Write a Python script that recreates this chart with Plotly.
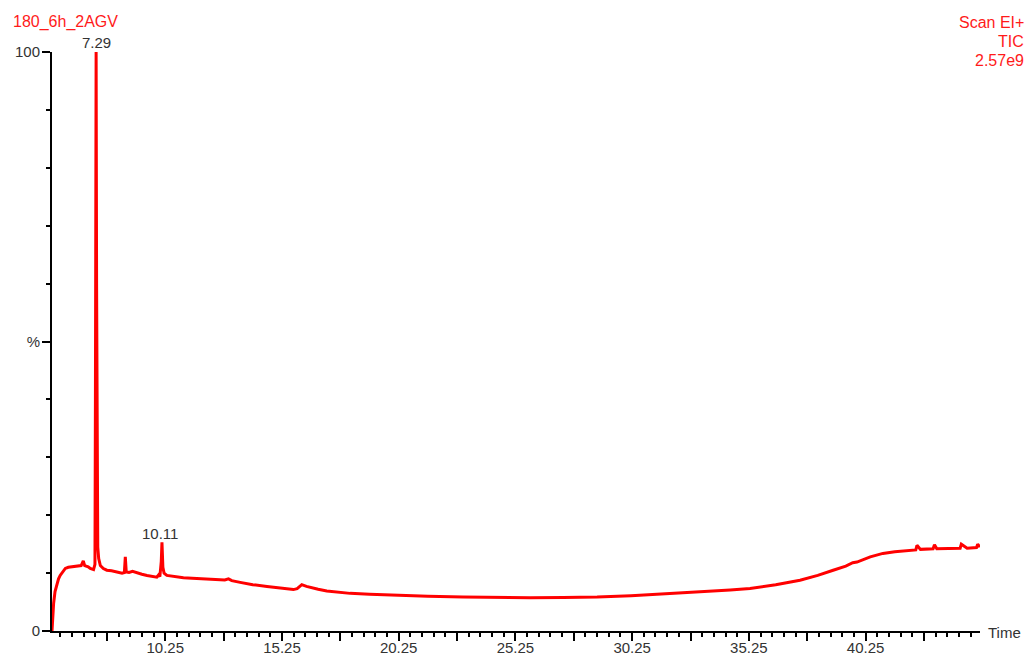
import plotly.graph_objects as go

# ---- data ----
time_min = [
    5.40, 5.44, 5.47, 5.53, 5.61, 5.68, 5.75, 5.86, 5.97, 6.10, 6.31, 6.50, 6.65, 6.74, 6.80,
    6.95, 7.04, 7.18, 7.24, 7.26, 7.29, 7.31, 7.33, 7.36, 7.40, 7.47, 7.60, 7.75, 7.95, 8.18,
    8.40, 8.50, 8.54, 8.58, 8.70, 8.85, 9.04, 9.25, 9.47, 9.70, 9.89, 9.97, 10.02, 10.08, 10.11,
    10.15, 10.20, 10.32, 10.60, 11.03, 11.40, 11.75, 12.10, 12.46, 12.80, 12.96, 13.10, 13.46, 14.00,
    14.61, 15.20, 15.74, 15.90, 16.10, 16.30, 16.46, 16.80, 17.17, 17.70, 18.17, 19.00, 20.19, 21.50,
    23.01, 24.50, 25.88, 27.30, 28.75, 30.20, 31.58, 33.16, 34.45, 35.30, 36.40, 37.44, 38.20, 38.86,
    39.40, 39.70, 39.88, 40.45, 40.99, 41.50, 42.02, 42.40, 42.45, 42.60, 43.14, 43.20, 43.30, 44.00,
    44.30, 44.35, 44.60, 45.00, 45.05, 45.15,
]
intensity_pct = [
    0.0, 3.0, 4.8, 6.8, 8.2, 9.0, 9.6, 10.3, 10.8, 11.0, 11.1, 11.2, 11.3, 12.1, 11.3,
    11.1, 10.8, 10.6, 11.5, 40.0, 100.0, 60.0, 20.0, 14.5, 12.5, 11.3, 10.8, 10.5, 10.4, 10.2,
    10.0, 10.1, 12.8, 10.2, 10.1, 10.3, 10.0, 9.8, 9.6, 9.4, 9.3, 9.7, 9.4, 12.0, 15.3,
    11.0, 10.0, 9.6, 9.4, 9.2, 9.1, 9.05, 9.0, 8.9, 8.8, 9.0, 8.7, 8.4, 8.0,
    7.7, 7.4, 7.15, 7.3, 8.0, 7.7, 7.5, 7.2, 6.9, 6.7, 6.5, 6.35, 6.17, 6.0,
    5.88, 5.8, 5.76, 5.8, 5.88, 6.1, 6.4, 6.7, 7.1, 7.35, 8.0, 8.76, 9.6, 10.5,
    11.2, 11.8, 11.9, 12.8, 13.4, 13.7, 13.9, 14.0, 14.8, 14.1, 14.2, 14.9, 14.2, 14.3,
    14.3, 15.0, 14.3, 14.4, 15.0, 14.5,
]

peak_times = [7.29, 10.11]
peak_labels = ["7.29", "10.11"]
peak_heights = [100.0, 15.3]

x_label_times = [10.25, 15.25, 20.25, 25.25, 30.25, 35.25, 40.25]
x_tick_labels = ["10.25", "15.25", "20.25", "25.25", "30.25", "35.25", "40.25"]
y_tick_vals = [0, 50, 100]
y_tick_labels = ["0", "%", "100"]

sample_name = "180_6h_2AGV"
scan_lines = ["Scan EI+", "TIC", "2.57e9"]

# ---- layout constants ----
W, H = 1027, 658
ML, MR, MT, MB = 52, 47, 52, 27
PW, PH = W - ML - MR, H - MT - MB
X_RANGE = [5.40, 45.15]
RED = "#ff1a1a"
FONT = "Liberation Sans, Arial, sans-serif"


def px_to_paper_x(px):
    return (px - ML) / PW


def px_to_paper_y(py):
    return (H - MB - py) / PH


# major x ticks every 2.5 min, labelled every 5 min
major_vals = []
major_text = []
v = 7.75
while v < X_RANGE[1]:
    major_vals.append(round(v, 2))
    lab = ""
    for t, s in zip(x_label_times, x_tick_labels):
        if abs(t - v) < 1e-6:
            lab = s
    major_text.append(lab)
    v += 2.5

fig = go.Figure()
fig.add_trace(go.Scatter(
    x=time_min, y=intensity_pct, mode="lines",
    line=dict(color="#ff0000", width=3), showlegend=False, hoverinfo="x+y",
))

annotations = []
for t, lab, h, xs, ys in zip(peak_times, peak_labels, peak_heights, [0, -2], [10, 9]):
    annotations.append(dict(
        x=t, y=h, xref="x", yref="y", text=lab, showarrow=False,
        xanchor="center", yanchor="middle", xshift=xs, yshift=ys,
        font=dict(family=FONT, size=15, color="#333333"),
    ))

annotations.append(dict(
    x=px_to_paper_x(11), y=px_to_paper_y(22), xref="paper", yref="paper",
    text=sample_name, showarrow=False, xanchor="left", yanchor="middle",
    font=dict(family=FONT, size=16, color=RED),
))
for line, py in zip(scan_lines, [22.5, 41.5, 60.5]):
    annotations.append(dict(
        x=px_to_paper_x(1026), y=px_to_paper_y(py), xref="paper", yref="paper",
        text=line, showarrow=False, xanchor="right", yanchor="middle",
        font=dict(family=FONT, size=16, color=RED),
    ))
annotations.append(dict(
    x=px_to_paper_x(986), y=px_to_paper_y(632), xref="paper", yref="paper",
    text="Time", showarrow=False, xanchor="left", yanchor="middle",
    font=dict(family=FONT, size=15, color="#333333"),
))

fig.update_layout(
    width=W, height=H,
    margin=dict(l=ML, r=MR, t=MT, b=MB, pad=0, autoexpand=False),
    paper_bgcolor="white", plot_bgcolor="white",
    annotations=annotations,
    showlegend=False,
    xaxis=dict(
        range=X_RANGE, showgrid=False, zeroline=False, automargin=False,
        showline=True, linecolor="black", linewidth=2,
        tickmode="array", tickvals=major_vals, ticktext=major_text,
        ticks="outside", ticklen=8, tickwidth=1.5, tickcolor="black",
        ticklabelstandoff=-6,
        tickfont=dict(family=FONT, size=15, color="#333333"),
        minor=dict(tickmode="linear", tick0=5.75, dtick=0.5, ticks="outside",
                   ticklen=4, tickwidth=1.5, tickcolor="black", showgrid=False),
    ),
    yaxis=dict(
        range=[0, 100], showgrid=False, zeroline=False, automargin=False,
        showline=True, linecolor="black", linewidth=2,
        tickmode="array", tickvals=y_tick_vals, ticktext=y_tick_labels,
        ticks="outside", ticklen=8, tickwidth=1.5, tickcolor="black",
        ticklabelstandoff=-1,
        tickfont=dict(family=FONT, size=15, color="#333333"),
        minor=dict(tickmode="linear", tick0=0, dtick=10, ticks="outside",
                   ticklen=4, tickwidth=1.5, tickcolor="black", showgrid=False),
    ),
)

# remove the page's default body margin so the figure sits at the window origin
page_fix = (
    "document.body.style.margin='0';document.body.style.padding='0';"
    "document.documentElement.style.overflow='hidden';"
)

fig.write_html("out.html", post_script=page_fix, config={"displayModeBar": False})
